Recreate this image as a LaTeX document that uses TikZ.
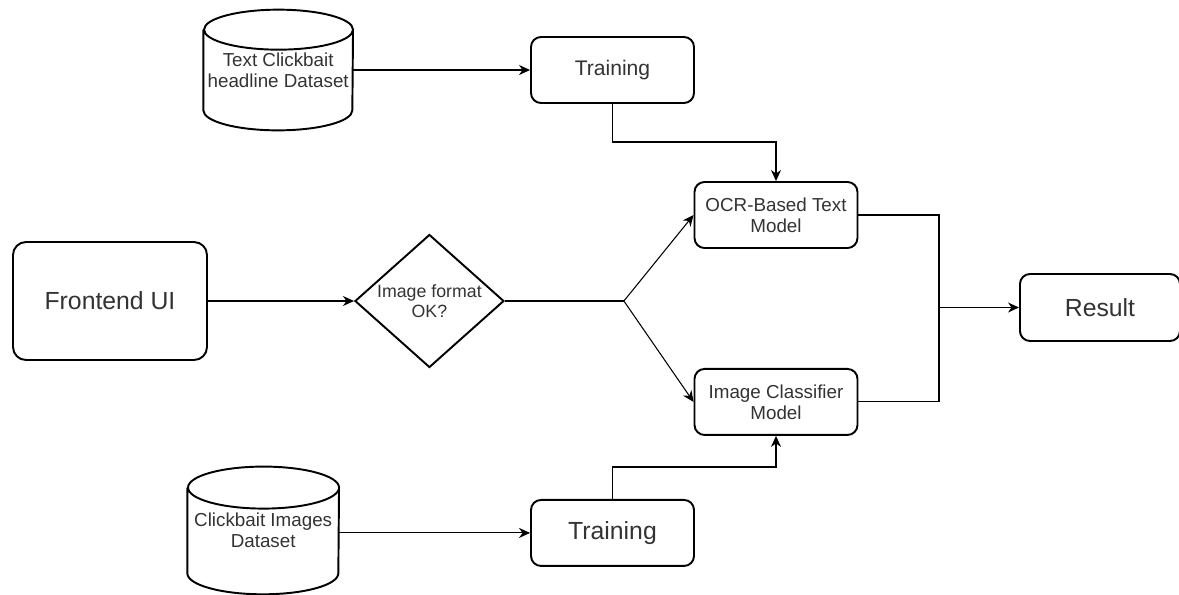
\documentclass[tikz,border=0pt]{standalone}
\usepackage{fontspec}
\setmainfont{Liberation Sans}
\usepackage{tikz}
\usetikzlibrary{arrows.meta,positioning,shapes.geometric}
\definecolor{ink}{RGB}{51,51,51}
\newcommand{\fsmall}{\fontsize{10.7}{12}\selectfont}
\newcommand{\fdiam}{\fontsize{10.1}{11}\selectfont}
\newcommand{\fmid}{\fontsize{12}{14}\selectfont}
\newcommand{\fbig}{\fontsize{14.1}{16}\selectfont}
\tikzset{
  box/.style={draw=black,line width=1.1pt,rounded corners=2mm,fill=white,
    text=ink,font=\fsmall,align=center,inner sep=2pt,
    minimum width=32.6mm,minimum height=13.2mm},
  db/.style={rectangle,text=ink,font=\fsmall,align=center,inner sep=0pt},
  dbline/.style={draw=black,line width=1.1pt},
  decision/.style={diamond,draw=black,line width=1.1pt,fill=white,inner sep=0pt,
    minimum width=29.8mm,minimum height=26.6mm},
  dtxt/.style={text=ink,font=\fdiam,align=center},
  arr/.style={-{Stealth[length=2.2mm,width=2mm,inset=0.7mm]},line width=0.6pt},
  link/.style={line width=0.6pt},
}
% drum outline around a db node: #1 node, #2 half width, #3 end radius
\newcommand{\drum}[3]{%
  \draw[dbline] ([yshift=-#3]#1.north west) -- ([yshift=#3]#1.south west)
    arc[start angle=180,end angle=360,x radius=#2,y radius=#3]
    -- ([yshift=-#3]#1.north east)
    arc[start angle=0,end angle=180,x radius=#2,y radius=#3]
    arc[start angle=180,end angle=360,x radius=#2,y radius=#3];}

\begin{document}
\begin{tikzpicture}
  \useasboundingbox (0,0) rectangle (235.8mm,-118.8mm);
  % left side
  \node[box,rounded corners=2.6mm,font=\fbig,minimum width=38.8mm,minimum height=23.6mm]
    (front) at (22mm,-60.2mm) {Frontend UI};
  \node[decision,right=29.2mm of front,
    label={[dtxt]center:Image format\\OK?}] (chk) {};
  \coordinate[right=23.8mm of chk] (fork);
  % models
  \node[box] (ocr) at (155.2mm,-43mm) {OCR-Based Text\\Model};
  \node[box,below=23.8mm of ocr] (ic) {Image Classifier\\Model};
  % training branches
  \node[box,font=\fmid] (trnTxt) at (122.5mm,-14mm) {Training};
  \node[db,minimum width=29.8mm,minimum height=24mm,left=35.4mm of trnTxt]
    (dsTxt) {Text Clickbait\\headline Dataset};
  \drum{dsTxt}{14.9mm}{4mm}
  \node[box,font=\fbig,below=79mm of trnTxt] (trnImg) {Training};
  \node[db,minimum width=30.2mm,minimum height=25.4mm,left=38.2mm of trnImg,
    yshift=0.5mm] (dsImg) {Clickbait Images\\Dataset};
  \drum{dsImg}{15.1mm}{4.2mm}
  % result
  \coordinate (join) at (187.8mm,-61.5mm);
  \node[box,font=\fbig,minimum width=32mm,minimum height=13.4mm,right=16mm of join]
    (res) {Result};

  \draw[arr] (front) -- (chk);
  \draw[link] (chk.east) -- (fork);
  \draw[arr] (fork) -- (ocr.west);
  \draw[arr] (fork) -- (ic.west);
  \draw[arr] (dsTxt) -- (trnTxt);
  \draw[arr] (trnTxt.south) -- ++(0,-7.6mm) -| (ocr.north);
  \draw[arr] (dsImg.east |- trnImg) -- (trnImg);
  \draw[arr] (trnImg.north) -- ++(0,6.4mm) -| (ic.south);
  \draw[link] (ocr.east) -| (join);
  \draw[link] (ic.east) -| (join);
  \draw[arr] (join) -- (res);
\end{tikzpicture}
\end{document}
